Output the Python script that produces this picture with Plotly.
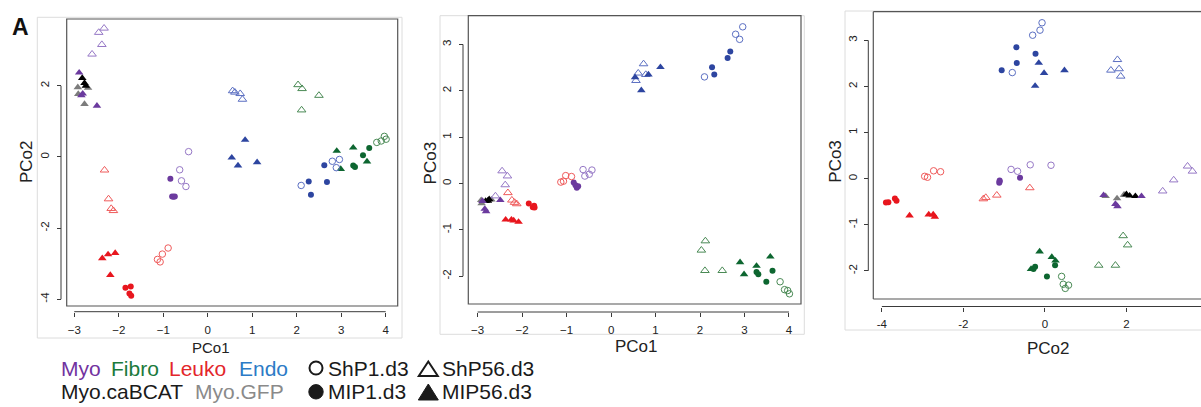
import plotly.graph_objects as go

# ---------------- data (PCo1, PCo2, PCo3 per sample) ----------------
# Myo
myo_shp1_pc1 = [-0.43, -0.63, -0.59, -0.49]
myo_shp1_pc2 = [0.15, -0.36, -0.67, -0.83]
myo_shp1_pc3 = [0.29, 0.30, 0.16, 0.20]
myo_shp56_pc1 = [-2.45, -2.33, -2.38, -2.60]
myo_shp56_pc2 = [3.50, 3.62, 3.16, 2.89]
myo_shp56_pc3 = [0.27, 0.16, -0.03, -0.27]
myo_mip1_pc1 = [-0.84, -0.80, -0.77, -0.74]
myo_mip1_pc2 = [-0.61, -1.11, -1.12, -1.11]
myo_mip1_pc3 = [0.02, -0.04, -0.09, -0.06]
myo_mip56_pc1 = [-2.89, -2.84, -2.49, -2.81]
myo_mip56_pc2 = [2.37, 1.73, 1.44, 1.78]
myo_mip56_pc3 = [-0.38, -0.55, -0.36, -0.60]
# Fibro
fibro_shp1_pc1 = [3.80, 3.90, 3.97, 4.01]
fibro_shp1_pc2 = [0.41, 0.45, 0.58, 0.50]
fibro_shp1_pc3 = [-2.12, -2.29, -2.31, -2.38]
fibro_shp56_pc1 = [2.03, 2.12, 2.50, 2.11]
fibro_shp56_pc2 = [2.03, 1.92, 1.73, 1.32]
fibro_shp56_pc3 = [-1.44, -1.24, -1.88, -1.88]
fibro_mip1_pc1 = [3.27, 3.31, 3.49, 3.63]
fibro_mip1_pc2 = [-0.24, -0.28, 0.05, 0.25]
fibro_mip1_pc3 = [-1.91, -1.96, -2.12, -1.88]
fibro_mip56_pc1 = [2.90, 2.99, 3.27, 3.58]
fibro_mip56_pc2 = [0.17, -0.34, 0.26, -0.13]
fibro_mip56_pc3 = [-1.70, -1.96, -1.78, -1.58]
# Leuko
leuko_shp1_pc1 = [-1.13, -1.07, -1.02, -0.89]
leuko_shp1_pc2 = [-2.88, -2.95, -2.73, -2.56]
leuko_shp1_pc3 = [0.03, 0.05, 0.17, 0.15]
leuko_shp56_pc1 = [-2.32, -2.23, -2.17, -2.12]
leuko_shp56_pc2 = [-0.37, -1.18, -1.45, -1.51]
leuko_shp56_pc3 = [-0.20, -0.36, -0.41, -0.44]
leuko_mip1_pc1 = [-1.85, -1.73, -1.76, -1.72]
leuko_mip1_pc2 = [-3.68, -3.64, -3.84, -3.90]
leuko_mip1_pc3 = [-0.43, -0.48, -0.51, -0.52]
leuko_mip56_pc1 = [-2.37, -2.24, -2.08, -2.19]
leuko_mip56_pc2 = [-2.85, -2.74, -2.70, -3.32]
leuko_mip56_pc3 = [-0.78, -0.78, -0.83, -0.80]
# Endo
endo_shp1_pc1 = [2.10, 2.80, 2.89, 2.96]
endo_shp1_pc2 = [-0.80, -0.12, -0.30, -0.07]
endo_shp1_pc3 = [2.30, 3.22, 3.11, 3.38]
endo_shp56_pc1 = [0.56, 0.61, 0.73, 0.78]
endo_shp56_pc2 = [1.86, 1.82, 1.78, 1.62]
endo_shp56_pc3 = [2.22, 2.38, 2.58, 2.35]
endo_mip1_pc1 = [2.27, 2.32, 2.62, 2.68]
endo_mip1_pc2 = [-0.69, -1.06, -0.23, -0.70]
endo_mip1_pc3 = [2.51, 2.35, 2.71, 2.85]
endo_mip56_pc1 = [0.54, 0.68, 0.84, 1.11]
endo_mip56_pc2 = [-0.02, -0.24, 0.48, -0.15]
endo_mip56_pc3 = [2.29, 2.01, 2.35, 2.51]
# Myo.GFP and Myo.caBCAT (filled triangles)
gfp_pc1 = [-2.92, -2.69, -2.91, -2.77]
gfp_pc2 = [1.96, 1.94, 1.77, 1.49]
gfp_pc3 = [-0.36, -0.35, -0.43, -0.38]
cabcat_pc1 = [-2.82, -2.77, -2.74]
cabcat_pc2 = [2.22, 2.08, 2.00]
cabcat_pc3 = [-0.38, -0.37, -0.34]

cell_types = ["Myo", "Fibro", "Leuko", "Endo"]
conditions = ["ShP1.d3", "ShP56.d3", "MIP1.d3", "MIP56.d3"]
type_colors = {"Myo": "#7232A0", "Fibro": "#1B7A3C", "Leuko": "#E3262B", "Endo": "#2C7BC6",
               "Myo.caBCAT": "#1A1A1A", "Myo.GFP": "#8A8A8A"}

# ---------------- assemble groups ----------------
groups = [
    # (name, pc1, pc2, pc3, symbol, colour, size, line)
    ("Myo.GFP MIP56", gfp_pc1, gfp_pc2, gfp_pc3, "triangle-up", "#7C7C7C", 7.5, 0),
    ("Myo.caBCAT MIP56", cabcat_pc1, cabcat_pc2, cabcat_pc3, "triangle-up", "#000000", 7.5, 0),
    ("Myo ShP1", myo_shp1_pc1, myo_shp1_pc2, myo_shp1_pc3, "circle-open", "#9678C6", 6.5, 1),
    ("Myo ShP56", myo_shp56_pc1, myo_shp56_pc2, myo_shp56_pc3, "triangle-up-open", "#9678C6", 7.5, 1),
    ("Myo MIP1", myo_mip1_pc1, myo_mip1_pc2, myo_mip1_pc3, "circle", "#6B3A9E", 6, 0),
    ("Myo MIP56", myo_mip56_pc1, myo_mip56_pc2, myo_mip56_pc3, "triangle-up", "#6B3A9E", 7.5, 0),
    ("Fibro ShP1", fibro_shp1_pc1, fibro_shp1_pc2, fibro_shp1_pc3, "circle-open", "#4A8A55", 6.5, 1),
    ("Fibro ShP56", fibro_shp56_pc1, fibro_shp56_pc2, fibro_shp56_pc3, "triangle-up-open", "#4A8A55", 7.5, 1),
    ("Fibro MIP1", fibro_mip1_pc1, fibro_mip1_pc2, fibro_mip1_pc3, "circle", "#0D6630", 6, 0),
    ("Fibro MIP56", fibro_mip56_pc1, fibro_mip56_pc2, fibro_mip56_pc3, "triangle-up", "#0D6630", 7.5, 0),
    ("Leuko ShP1", leuko_shp1_pc1, leuko_shp1_pc2, leuko_shp1_pc3, "circle-open", "#EF5B5B", 6.5, 1),
    ("Leuko ShP56", leuko_shp56_pc1, leuko_shp56_pc2, leuko_shp56_pc3, "triangle-up-open", "#EF5B5B", 7.5, 1),
    ("Leuko MIP1", leuko_mip1_pc1, leuko_mip1_pc2, leuko_mip1_pc3, "circle", "#E8161E", 6, 0),
    ("Leuko MIP56", leuko_mip56_pc1, leuko_mip56_pc2, leuko_mip56_pc3, "triangle-up", "#E8161E", 7.5, 0),
    ("Endo ShP1", endo_shp1_pc1, endo_shp1_pc2, endo_shp1_pc3, "circle-open", "#5B6FC2", 6.5, 1),
    ("Endo ShP56", endo_shp56_pc1, endo_shp56_pc2, endo_shp56_pc3, "triangle-up-open", "#5B6FC2", 7.5, 1),
    ("Endo MIP1", endo_mip1_pc1, endo_mip1_pc2, endo_mip1_pc3, "circle", "#2D45A0", 6, 0),
    ("Endo MIP56", endo_mip56_pc1, endo_mip56_pc2, endo_mip56_pc3, "triangle-up", "#2D45A0", 7.5, 0),
]

W, H = 1201, 407
def px(v):
    return v / W
def py(v):
    return 1 - v / H

FONT = "Liberation Sans, Arial, Helvetica, sans-serif"
AXC = "#3a3a3a"

panels = [
    dict(n=1, xi=1, yi=2, dx=(66.7, 397.7), dy=(19, 306), xr=(-3.17, 4.27), yr=(-4.19, 3.88),
         xt=[-3, -2, -1, 0, 1, 2, 3, 4], yt=[-4, -2, 0, 2], xl=(-3, 4), yl=(-4, 2),
         xline=311.7, yline=61, xtitle="PCo1", ytitle="PCo2",
         xtpos=(210.8, 347.5), ytpos=(26, 162), xts=15, full=True, frame=(37.3, 17.3, 402, 338)),
    dict(n=2, xi=1, yi=3, dx=(468.3, 801), dy=(15.7, 304), xr=(-3.21, 4.27), yr=(-2.60, 3.62),
         xt=[-3, -2, -1, 0, 1, 2, 3, 4], yt=[-2, -1, 0, 1, 2, 3], xl=(-3, 4), yl=(-2, 3),
         xline=312, yline=463, xtitle="PCo1", ytitle="PCo3",
         xtpos=(636.7, 346.7), ytpos=(430.7, 162.7), xts=17, full=True, frame=(440, 15.7, 804.3, 334.3)),
    dict(n=3, xi=2, yi=3, dx=(873.3, 1201), dy=(11.7, 299), xr=(-4.21, 3.83), yr=(-2.61, 3.62),
         xt=[-4, -2, 0, 2, 4], yt=[-2, -1, 0, 1, 2, 3], xl=(-4, 4), yl=(-2, 3),
         xline=306.5, yline=868.3, xtitle="PCo2", ytitle="PCo3",
         xtpos=(1048.3, 348), ytpos=(836, 161.7), xts=17, full=False, frame=(845, 11, 1215, 330)),
]

fig = go.Figure()
shapes = []
annotations = []
layout_axes = {}

for p in panels:
    n = p["n"]
    xa = "x" if n == 1 else f"x{n}"
    ya = "y" if n == 1 else f"y{n}"
    for name, a1, a2, a3, sym, col, size, lw in groups:
        comps = {1: a1, 2: a2, 3: a3}
        fig.add_trace(go.Scatter(
            x=comps[p["xi"]], y=comps[p["yi"]], mode="markers", name=name,
            xaxis=xa, yaxis=ya, showlegend=False, hoverinfo="skip",
            marker=dict(symbol=sym, color=col, size=size,
                        line=dict(color=col, width=lw if lw else 0)),
        ))
    tick_fmt = [str(v) if v >= 0 else "-" + str(-v) for v in p["xt"]]
    tick_fmt_y = [str(v) if v >= 0 else "-" + str(-v) for v in p["yt"]]
    if n != 3:
        tick_fmt = [t.replace("-", "\u2212") for t in tick_fmt]
    layout_axes["xaxis" if n == 1 else f"xaxis{n}"] = dict(
        domain=[px(p["dx"][0]), px(p["dx"][1])], range=list(p["xr"]),
        anchor="free", position=py(p["xline"]),
        tickvals=p["xt"], ticktext=tick_fmt, ticks="outside", ticklen=4, tickwidth=1,
        tickcolor=AXC, showline=False, showgrid=False, zeroline=False,
        tickfont=dict(family=FONT, size=11.5, color="#222"), ticklabelstandoff=3,
        fixedrange=True,
    )
    layout_axes["yaxis" if n == 1 else f"yaxis{n}"] = dict(
        domain=[py(p["dy"][1]), py(p["dy"][0])], range=list(p["yr"]),
        anchor="free", position=px(p["yline"]),
        tickvals=p["yt"], ticktext=tick_fmt_y, ticks="outside", ticklen=4, tickwidth=1,
        tickcolor=AXC, showline=False, showgrid=False, zeroline=False, tickangle=-90,
        tickfont=dict(family=FONT, size=11.5, color="#222"), ticklabelstandoff=3,
        fixedrange=True,
    )
    # light outer frame (figure border of each panel)
    fx0, fy0, fx1, fy1 = p["frame"]
    shapes.append(dict(type="rect", xref="paper", yref="paper",
                       x0=px(fx0), x1=px(fx1), y0=py(fy1), y1=py(fy0),
                       line=dict(color="#dcdcdc", width=1), layer="below"))
    # dark plot box
    if p["full"]:
        shapes.append(dict(type="rect", xref=f"{xa} domain", yref=f"{ya} domain",
                           x0=0, x1=1, y0=0, y1=1, line=dict(color="#555", width=1.2)))
    else:
        for (x0, y0, x1, y1) in [(0, 0, 0, 1), (0, 1, 1.2, 1), (0, 0, 1.2, 0)]:
            shapes.append(dict(type="line", xref=f"{xa} domain", yref=f"{ya} domain",
                               x0=x0, x1=x1, y0=y0, y1=y1, line=dict(color="#555", width=1.2)))
    # R-style axis lines spanning first..last tick
    shapes.append(dict(type="line", xref=xa, yref="paper", x0=p["xl"][0], x1=p["xl"][1],
                       y0=py(p["xline"]), y1=py(p["xline"]), line=dict(color=AXC, width=1)))
    shapes.append(dict(type="line", xref="paper", yref=ya, y0=p["yl"][0], y1=p["yl"][1],
                       x0=px(p["yline"]), x1=px(p["yline"]), line=dict(color=AXC, width=1)))
    # axis titles
    annotations.append(dict(text=p["xtitle"], x=px(p["xtpos"][0]), y=py(p["xtpos"][1]),
                            xref="paper", yref="paper", showarrow=False,
                            xanchor="center", yanchor="middle",
                            font=dict(family=FONT, size=p["xts"], color="#222")))
    annotations.append(dict(text=p["ytitle"], x=px(p["ytpos"][0]), y=py(p["ytpos"][1]),
                            xref="paper", yref="paper", showarrow=False, textangle=-90,
                            xanchor="center", yanchor="middle",
                            font=dict(family=FONT, size=17, color="#222")))

# panel letter
annotations.append(dict(text="<b>A</b>", x=px(20), y=py(27), xref="paper", yref="paper",
                        showarrow=False, xanchor="center", yanchor="middle",
                        font=dict(family=FONT, size=23, color="#111")))

# legend text
LEG = 21
row1, row2 = 368, 391.5
legend_items = [
    ("Myo", 58.5, row1, type_colors["Myo"]),
    ("Fibro", 108.5, row1, type_colors["Fibro"]),
    ("Leuko", 167, row1, type_colors["Leuko"]),
    ("Endo", 237, row1, type_colors["Endo"]),
    ("Myo.caBCAT", 58.5, row2, type_colors["Myo.caBCAT"]),
    ("Myo.GFP", 193, row2, type_colors["Myo.GFP"]),
    (conditions[0], 326, row1, "#1A1A1A"),
    (conditions[1], 439.5, row1, "#1A1A1A"),
    (conditions[2], 326, row2, "#1A1A1A"),
    (conditions[3], 439.5, row2, "#1A1A1A"),
]
for txt, x, y, c in legend_items:
    annotations.append(dict(text=txt, x=px(x), y=py(y), xref="paper", yref="paper",
                            showarrow=False, xanchor="left", yanchor="middle",
                            font=dict(family=FONT, size=LEG, color=c)))

# legend symbols
shapes.append(dict(type="circle", xref="paper", yref="paper",
                   x0=px(309.5), x1=px(322.5), y0=py(374.5), y1=py(361.5),
                   line=dict(color="#1A1A1A", width=2)))
shapes.append(dict(type="circle", xref="paper", yref="paper",
                   x0=px(308.8), x1=px(323.2), y0=py(399), y1=py(384.6),
                   line=dict(color="#1A1A1A", width=1), fillcolor="#1A1A1A"))
def tri(cx, base, top, half):
    return (f"M {px(cx - half)} {py(base)} L {px(cx + half)} {py(base)} "
            f"L {px(cx)} {py(top)} Z")
shapes.append(dict(type="path", xref="paper", yref="paper", path=tri(428.3, 376, 361.5, 9.5),
                   line=dict(color="#1A1A1A", width=2)))
shapes.append(dict(type="path", xref="paper", yref="paper", path=tri(428.3, 400, 384, 10),
                   line=dict(color="#1A1A1A", width=1), fillcolor="#1A1A1A"))

fig.update_layout(
    width=W, height=H, margin=dict(l=0, r=0, t=0, b=0),
    paper_bgcolor="white", plot_bgcolor="white",
    shapes=shapes, annotations=annotations, showlegend=False,
    font=dict(family=FONT),
    **layout_axes,
)
fig.write_html("out.html",
               config={"displayModeBar": False, "staticPlot": True},
               post_script="document.body.style.margin='0';document.body.style.overflow='hidden';")
